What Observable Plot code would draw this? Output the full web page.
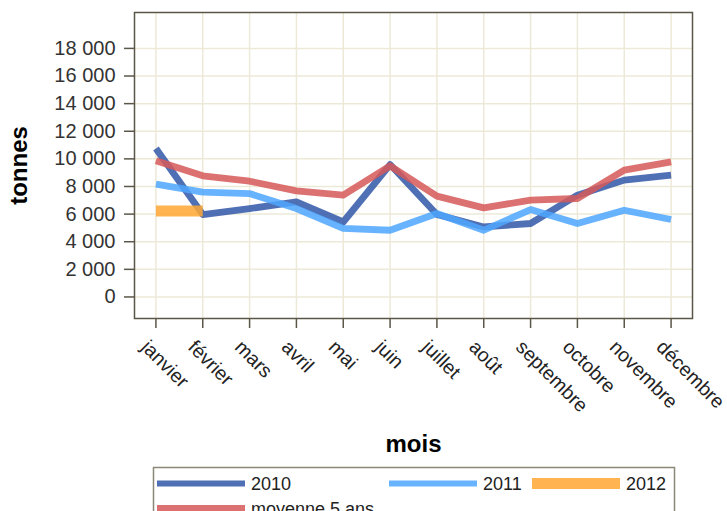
<!DOCTYPE html>
<html>
<head>
<meta charset="utf-8">
<script src="https://cdn.jsdelivr.net/npm/d3@7"></script>
<script src="https://cdn.jsdelivr.net/npm/@observablehq/plot@0.6"></script>
<style>
  html, body { margin: 0; padding: 0; background: white; }
  #wrap { position: relative; width: 727px; height: 511px; overflow: hidden; font-family: "Liberation Sans", Arial, sans-serif; }
  #legend { position: absolute; left: 0; top: 0; }
</style>
</head>
<body>
<div id="wrap"></div>
<script>
const months = ["janvier","février","mars","avril","mai","juin","juillet","août","septembre","octobre","novembre","décembre"];
const v2010 = [10750, 5970, 6400, 6880, 5430, 9590, 5970, 5070, 5320, 7370, 8460, 8820];
const v2011 = [8170, 7590, 7490, 6400, 4960, 4830, 6040, 4830, 6330, 5320, 6280, 5610];
const v2012 = [6230, 6230];
const vMoy = [9860, 8770, 8380, 7680, 7370, 9500, 7300, 6450, 7010, 7130, 9180, 9780];
const yTicks = [0, 2000, 4000, 6000, 8000, 10000, 12000, 14000, 16000, 18000];
const seriesNames = ["2010", "2011", "2012", "moyenne 5 ans"];
const seriesColors = ["#3157a8", "#4ea6ff", "#ffa733", "#d65858"];
const seriesWidths = [6.8, 6.8, 11, 6.8];

const seriesValues = [v2010, v2011, v2012, vMoy];
const rows = [];
seriesValues.forEach((vals, s) => vals.forEach((v, i) => rows.push({serie: seriesNames[s], mois: months[i], value: v})));

const fmt = d => d3.format(",")(d).replace(/,/g, " ");
const gridColor = "#ede9d8";
const axisColor = "#5a5648";

const lineMarks = seriesNames.map((name, s) =>
  Plot.line(rows.filter(r => r.serie === name), {
    x: "mois", y: "value",
    stroke: seriesColors[s], strokeWidth: seriesWidths[s], strokeOpacity: 0.85,
    strokeLinecap: "butt", strokeLinejoin: "round"
  })
);

const chart = Plot.plot({
  width: 727,
  height: 511,
  marginLeft: 134,
  marginRight: 35,
  marginTop: 12,
  marginBottom: 193,
  style: { fontFamily: "Liberation Sans, Arial, sans-serif", fontSize: "20px", color: "#333", background: "white" },
  x: { type: "point", domain: months, padding: 0.4575, round: false },
  y: { domain: [-1560, 20600] },
  marks: [
    Plot.gridX(months, { stroke: gridColor, strokeOpacity: 1, strokeWidth: 1.5 }),
    Plot.gridY(yTicks, { stroke: gridColor, strokeOpacity: 1, strokeWidth: 1.5 }),
    ...lineMarks,
    Plot.frame({ stroke: axisColor, strokeWidth: 1.5 }),
    Plot.axisY(yTicks, { tickSize: 10, tickPadding: 9, tickFormat: fmt, label: null, stroke: axisColor, strokeWidth: 1.5, fontSize: 20 }),
    Plot.axisX({ tickSize: 10, tickFormat: () => "", label: null, stroke: axisColor, strokeWidth: 1.5 }),
    Plot.text(months, { x: d => d, frameAnchor: "bottom", dx: -6, dy: 20, rotate: 45, textAnchor: "start", lineAnchor: "top", fontSize: 19.5, fill: "#222" }),
    Plot.text(["tonnes"], { frameAnchor: "left", dx: -115, rotate: -90, textAnchor: "middle", fontWeight: "bold", fontSize: 24, fill: "#000" }),
    Plot.text(["mois"], { frameAnchor: "bottom", dy: 133, fontWeight: "bold", fontSize: 24, fill: "#000" })
  ]
});

const wrap = document.getElementById("wrap");
wrap.appendChild(chart);

// Legend
const svg = d3.select(wrap).append("svg")
  .attr("id", "legend").attr("width", 727).attr("height", 511);
svg.append("rect").attr("x", 153.5).attr("y", 467.5).attr("width", 521).attr("height", 60)
  .attr("fill", "none").attr("stroke", "#8c8878").attr("stroke-width", 1.5);
const legendItems = [
  { name: seriesNames[0], color: seriesColors[0], w: 6, x: 157, y: 483.5 },
  { name: seriesNames[1], color: seriesColors[1], w: 6, x: 389, y: 483.5 },
  { name: seriesNames[2], color: seriesColors[2], w: 11, x: 532, y: 483.5 },
  { name: seriesNames[3], color: seriesColors[3], w: 6, x: 157, y: 508 }
];
legendItems.forEach(it => {
  svg.append("line").attr("x1", it.x).attr("x2", it.x + 88).attr("y1", it.y).attr("y2", it.y)
    .attr("stroke", it.color).attr("stroke-opacity", 0.85).attr("stroke-width", it.w);
  svg.append("text").attr("x", it.x + 94).attr("y", it.y + 6.5)
    .attr("font-family", "Liberation Sans, Arial, sans-serif").attr("font-size", 18).attr("fill", "#222")
    .text(it.name);
});
</script>
</body>
</html>
